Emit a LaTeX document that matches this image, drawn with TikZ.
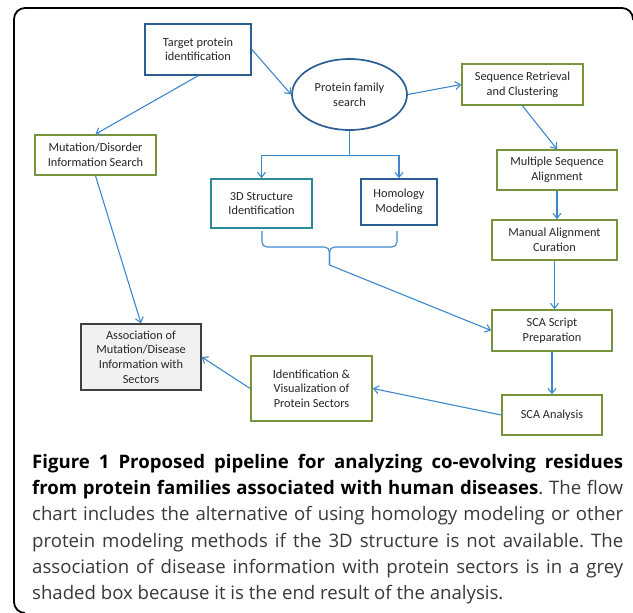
\documentclass[tikz,border=0pt]{standalone}
\usepackage{fontspec}
\setmainfont{Carlito}
\newfontfamily\capfont{Open Sans}
\usepackage{xcolor}
\usepackage{tikz}
\usetikzlibrary{arrows.meta,positioning,calc,shapes.geometric}
\definecolor{pipeBlue}{HTML}{2B5F91}
\definecolor{pipeTeal}{HTML}{2A8A9A}
\definecolor{pipeGreen}{HTML}{77933C}
\definecolor{pipeArrow}{HTML}{3D88CD}
\definecolor{pipeGrey}{HTML}{3F3F3F}
\definecolor{pipeFill}{HTML}{F1F1F1}
\tikzset{
  stage/.style={draw, line width=1.7pt, fill=white, align=center, inner sep=2pt,
    text=black!85, font=\fontsize{12.3}{14.6}\selectfont},
  bluebox/.style 2 args={stage, draw=pipeBlue, minimum width=#1pt, minimum height=#2pt},
  tealbox/.style 2 args={stage, draw=pipeTeal, minimum width=#1pt, minimum height=#2pt},
  greenbox/.style 2 args={stage, draw=pipeGreen, minimum width=#1pt, minimum height=#2pt},
  endbox/.style 2 args={stage, draw=pipeGrey, fill=pipeFill, line width=1.4pt,
    minimum width=#1pt, minimum height=#2pt},
  famnode/.style={stage, ellipse, draw=pipeBlue, minimum width=115pt, minimum height=71pt, inner sep=0pt},
  caption/.style={anchor=north west, inner sep=0pt, text width=591pt, align=justify,
    text=black!78, font=\capfont\fontsize{18.6}{26.2}\selectfont},
}

\begin{document}
\begin{tikzpicture}[x=1pt, y=-1pt,
  flow/.style={pipeArrow, line width=1.1pt},
  frame/.style={black, line width=1.8pt, rounded corners=11pt},
  >={Straight Barb[length=5pt,width=8pt]}]
\useasboundingbox (0,0) rectangle (633,613);
\draw[frame] (24,613) -| (14,8) -| (633,20);
% left column
\node[bluebox={106}{51}] (target) at (198,49.5) {Target protein\\identification};
\node[famnode] (fam) at (349.5,94.5) {Protein family\\search};
\node[greenbox={121}{40}] (mut) at (95.5,155) {Mutation/Disorder\\Information Search};
\node[tealbox={101}{49}] (s3d) at (261.5,203.5) {3D Structure\\Identification};
\node[bluebox={76}{46}] (hom) at (399,202) {Homology\\Modeling};
\node[endbox={120}{66}] (assoc) at (141,357) {Association of\\Mutation/Disease\\Information with\\Sectors};
\node[greenbox={121}{65}] (idv) at (311.5,388.5) {Identification \&\\Visualization of\\Protein Sectors};
% right column
\node[greenbox={121}{41}] (seq) at (522.5,84.5) {Sequence Retrieval\\and Clustering};
\node[greenbox={120}{40}] (msa) at (557,170) {Multiple Sequence\\Alignment};
\node[greenbox={125}{40}] (man) at (554.5,240) {Manual Alignment\\Curation};
\node[greenbox={120}{41}] (scr) at (552,330.5) {SCA Script\\Preparation};
\node[greenbox={100}{40}] (ana) at (552,415) {SCA Analysis};

\draw[flow, ->] (target.east) -- (fam.west);
\draw[flow, ->] (target.south) -- (mut.north);
\draw[flow, ->] (fam.east) -- (seq.west);
\draw[flow, ->] (seq.south) -- (msa.north);
\draw[flow, ->] (msa.south) -- (msa.south |- man.north);
\draw[flow, ->] (man.south) -- (man.south |- scr.north);
\draw[flow, ->] (scr.south) -- (ana.north);
\draw[flow, ->] (ana.west) -- (idv.east);
\draw[flow, ->] (idv.west) -- (assoc.east);
\draw[flow, ->] (mut.south) -- (assoc.north);
\draw[flow] (fam.south) -- ++(0,25) coordinate (split);
\draw[flow, ->] (split) -| (s3d.north);
\draw[flow, ->] (split) -| (hom.north);
% brace under the two structure boxes
\coordinate (brL) at (262,231);
\coordinate (brR) at (397,231);
\coordinate (brM) at (329.5,247);
\coordinate (brT) at (329.5,265);
\draw[flow, rounded corners=5pt] (brL) |- (brM) -- (brT);
\draw[flow, rounded corners=5pt] (brR) |- (brM) -- (brT);
\draw[flow, ->] (brT) -- (scr.west);

\node[caption] (cap) at (32,454) {\frenchspacing\hyphenpenalty=10000\tolerance=10000%
{\color{black}\bfseries Figure 1 Proposed pipeline for analyzing co-evolving residues\linebreak
from protein families associated with human diseases}. The flow\linebreak
chart includes the alternative of using homology modeling or other\linebreak
protein modeling methods if the 3D structure is not available. The\linebreak
association of disease information with protein sectors is in a grey\linebreak
shaded box because it is the end result of the analysis.};
\end{tikzpicture}
\end{document}
